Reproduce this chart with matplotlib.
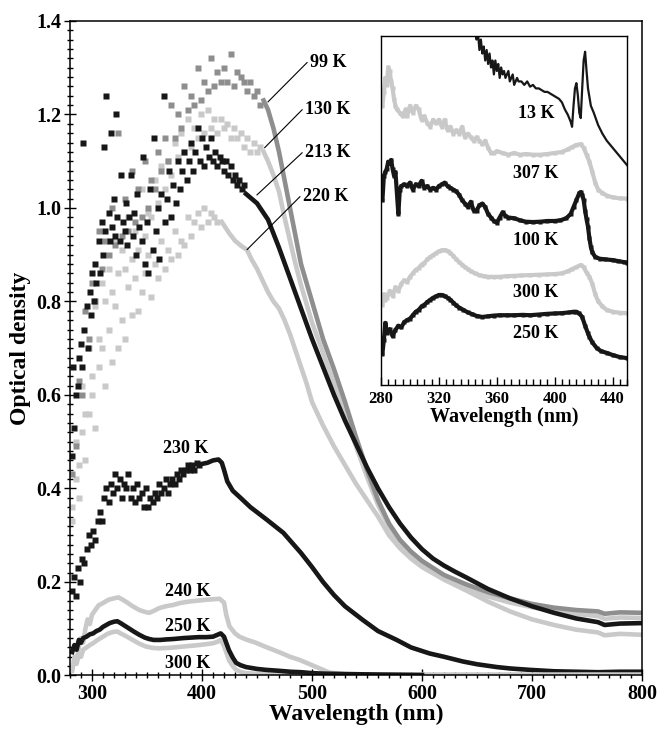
import matplotlib.pyplot as plt
from matplotlib.ticker import MultipleLocator

plt.rcParams['font.family'] = ['Liberation Serif', 'DejaVu Serif']
plt.rcParams['font.weight'] = 'bold'
plt.rcParams['axes.labelweight'] = 'bold'

BLACK = '#171717'
GRAY = '#8e8e8e'
LIGHT = '#c9c9c9'

# ---- main panel: optical density spectra (noisy part shown as points, rest as line) ----
wl_99_pts = [282, 285, 288, 291, 294, 297, 300, 303, 306, 309, 312, 315, 318, 321, 324, 327, 330, 333,
             336, 339, 342, 345, 348, 351, 354, 357, 360, 363, 366, 369, 372, 375, 378, 381, 384, 387,
             390, 393, 396, 399, 402, 405, 408, 411, 414, 417, 420, 423, 426, 429, 432, 435, 438, 441,
             444, 447, 450, 453]
od_99_pts = [0.43, 0.49, 0.63, 0.60, 0.78, 0.72, 0.84, 0.80, 0.95, 0.87, 0.93, 0.90, 1.00, 0.92, 1.16,
             0.94, 1.02, 0.95, 1.08, 0.97, 1.04, 0.98, 1.10, 1.00, 1.06, 1.04, 1.12, 1.08, 1.15, 1.10,
             1.22, 1.15, 1.20, 1.17, 1.26, 1.21, 1.24, 1.22, 1.30, 1.23, 1.27, 1.25, 1.32, 1.26, 1.29,
             1.27, 1.30, 1.27, 1.33, 1.26, 1.29, 1.28, 1.27, 1.25, 1.27, 1.24, 1.25, 1.22]
wl_99_line = [456, 460, 465, 470, 475, 480, 485, 490, 495, 500, 510, 520, 530, 540, 550, 560, 570, 580,
              590, 600, 620, 640, 660, 680, 700, 720, 740, 760, 766, 780, 800]
od_99_line = [1.23, 1.21, 1.17, 1.12, 1.06, 1.00, 0.94, 0.88, 0.84, 0.80, 0.72, 0.655, 0.585, 0.51, 0.44,
              0.375, 0.325, 0.29, 0.265, 0.245, 0.215, 0.195, 0.178, 0.165, 0.153, 0.145, 0.140, 0.137,
              0.132, 0.135, 0.134]

wl_130_pts = [282, 285, 288, 291, 294, 297, 300, 303, 306, 309, 312, 315, 318, 321, 324, 327, 330, 333,
              336, 339, 342, 345, 348, 351, 354, 357, 360, 363, 366, 369, 372, 375, 378, 381, 384, 387,
              390, 393, 396, 399, 402, 405, 408, 411, 414, 417, 420, 423, 426, 429, 432, 435, 438, 441,
              444, 447, 450, 453]
od_130_pts = [0.36, 0.50, 0.45, 0.62, 0.56, 0.70, 0.64, 0.79, 0.72, 0.84, 0.80, 0.87, 0.82, 0.93, 0.86,
              0.91, 0.87, 0.98, 0.89, 0.95, 0.91, 1.04, 0.94, 0.99, 0.98, 1.06, 1.01, 1.09, 1.04, 1.10,
              1.07, 1.14, 1.11, 1.16, 1.12, 1.19, 1.13, 1.17, 1.15, 1.20, 1.16, 1.21, 1.17, 1.19, 1.16,
              1.19, 1.17, 1.18, 1.15, 1.17, 1.15, 1.16, 1.13, 1.15, 1.12, 1.14, 1.12, 1.13]
wl_130_line = [456, 460, 465, 470, 475, 480, 485, 490, 495, 500, 510, 520, 530, 540, 550, 560, 570, 580,
               590, 600, 620, 640, 660, 680, 700, 720, 740, 760, 766, 780, 800]
od_130_line = [1.12, 1.10, 1.07, 1.035, 0.98, 0.93, 0.88, 0.835, 0.795, 0.755, 0.69, 0.625, 0.56, 0.49,
               0.425, 0.365, 0.318, 0.283, 0.258, 0.238, 0.207, 0.186, 0.169, 0.156, 0.146, 0.138, 0.132,
               0.127, 0.121, 0.124, 0.123]

wl_213_pts = [282, 283, 284, 285, 287, 288, 290, 291, 292, 293, 295, 296, 298, 299, 300, 302, 303, 304,
              306, 307, 309, 310, 311, 312, 313, 315, 316, 317, 318, 320, 321, 322, 323, 325, 326, 328,
              330, 331, 332, 334, 335, 337, 338, 340, 341, 343, 345, 346, 348, 350, 351, 353, 355, 356,
              358, 360, 361, 363, 365, 366, 368, 370, 372, 374, 376, 378, 380, 382, 384, 386, 388, 390,
              392, 394, 396, 398, 400, 402, 404, 406, 408, 410, 412, 414, 416, 418, 420, 422, 424, 426,
              428, 430, 432, 434, 436, 438]
od_213_pts = [0.47, 0.66, 0.53, 0.60, 0.62, 0.68, 0.71, 0.66, 1.14, 0.74, 0.79, 0.70, 0.82, 0.77, 0.86,
              0.80, 0.88, 0.84, 0.93, 0.86, 0.97, 0.90, 1.13, 0.95, 1.24, 0.99, 0.93, 1.16, 0.96, 1.02,
              0.94, 1.20, 0.98, 0.93, 1.07, 0.97, 0.95, 1.01, 0.92, 0.98, 1.07, 0.94, 0.99, 0.90, 1.03,
              0.96, 0.93, 1.11, 0.88, 0.97, 0.86, 1.04, 0.91, 1.15, 0.95, 1.00, 0.89, 1.03, 1.24, 0.97,
              1.02, 1.08, 0.98, 1.05, 1.01, 1.10, 1.04, 1.08, 1.12, 1.06, 1.10, 1.14, 1.08, 1.12, 1.17,
              1.10, 1.15, 1.09, 1.13, 1.11, 1.15, 1.10, 1.12, 1.09, 1.11, 1.10, 1.08, 1.10, 1.07, 1.09,
              1.06, 1.07, 1.05, 1.06, 1.04, 1.05]
wl_213_line = [440, 450, 460, 470, 480, 490, 500, 510, 520, 530, 540, 550, 560, 570, 580, 590, 600, 610,
               620, 630, 640, 660, 680, 700, 720, 740, 760, 766, 780, 800]
od_213_line = [1.03, 1.01, 0.975, 0.915, 0.85, 0.785, 0.72, 0.66, 0.60, 0.545, 0.495, 0.445, 0.40, 0.36,
               0.325, 0.295, 0.27, 0.25, 0.235, 0.222, 0.21, 0.185, 0.165, 0.148, 0.134, 0.122, 0.114,
               0.108, 0.111, 0.112]

wl_220_pts = [282, 285, 288, 291, 294, 297, 300, 303, 306, 309, 312, 315, 318, 321, 324, 327, 330, 333,
              336, 339, 342, 345, 348, 351, 354, 357, 360, 363, 366, 369, 372, 375, 378, 381, 384, 387,
              390, 393, 396, 399, 402, 405, 408, 411, 414]
od_220_pts = [0.33, 0.42, 0.38, 0.52, 0.46, 0.56, 0.60, 0.53, 0.66, 0.70, 0.62, 0.74, 0.67, 0.79, 0.70,
              0.76, 0.72, 0.83, 0.77, 0.85, 0.78, 0.82, 0.86, 0.90, 0.81, 0.88, 0.85, 0.93, 0.87, 0.91,
              0.89, 0.95, 0.90, 0.93, 0.92, 0.98, 0.94, 0.97, 0.99, 0.96, 1.00, 0.97, 0.99, 0.98, 0.97]
wl_220_line = [418, 425, 430, 435, 441, 445, 450, 455, 460, 465, 470, 475, 480, 485, 490, 495, 500, 510,
               520, 530, 540, 550, 560, 570, 580, 590, 600, 620, 640, 660, 680, 700, 720, 740, 760, 766,
               780, 800]
od_220_line = [0.97, 0.945, 0.93, 0.92, 0.91, 0.89, 0.87, 0.845, 0.82, 0.80, 0.785, 0.76, 0.73, 0.695,
               0.66, 0.625, 0.585, 0.535, 0.49, 0.45, 0.41, 0.375, 0.34, 0.30, 0.272, 0.25, 0.232, 0.205,
               0.182, 0.158, 0.137, 0.12, 0.108, 0.098, 0.092, 0.086, 0.089, 0.087]

wl_230_pts = [282, 284, 285, 287, 289, 291, 293, 295, 297, 299, 301, 303, 305, 307, 309, 311, 313, 315,
              317, 319, 321, 323, 325, 327, 329, 331, 333, 335, 337, 339, 341, 343, 345, 347, 349, 351,
              353, 355, 357, 359, 361, 363, 365, 367, 369, 371, 373, 375, 377, 379, 381, 383, 385, 387,
              389, 391, 393, 395, 397]
od_230_pts = [0.18, 0.21, 0.17, 0.23, 0.20, 0.25, 0.24, 0.27, 0.30, 0.28, 0.31, 0.29, 0.33, 0.35, 0.33,
              0.38, 0.40, 0.37, 0.41, 0.39, 0.43, 0.40, 0.42, 0.38, 0.41, 0.40, 0.43, 0.38, 0.40, 0.37,
              0.41, 0.38, 0.39, 0.36, 0.40, 0.36, 0.38, 0.37, 0.39, 0.38, 0.41, 0.39, 0.40, 0.42, 0.39,
              0.41, 0.42, 0.41, 0.43, 0.42, 0.44, 0.43, 0.44, 0.45, 0.44, 0.45, 0.44, 0.455, 0.45]
wl_230_line = [399, 405, 410, 415, 418, 420, 423, 428, 435, 444, 459, 474, 490, 500, 510, 520, 530, 546,
               560, 577, 590, 607, 620, 637, 650, 668, 680, 698, 720, 740, 760, 780, 800]
od_230_line = [0.452, 0.455, 0.46, 0.462, 0.455, 0.44, 0.415, 0.395, 0.38, 0.36, 0.333, 0.305, 0.262,
               0.232, 0.20, 0.172, 0.148, 0.119, 0.095, 0.076, 0.06, 0.047, 0.04, 0.03, 0.024, 0.018,
               0.015, 0.012, 0.009, 0.008, 0.007, 0.008, 0.008]

wl_240 = [282, 284, 286, 288, 290, 292, 294, 296, 298, 300, 303, 306, 310, 315, 320, 324, 328, 332, 337,
          343, 348, 352, 356, 361, 367, 374, 380, 388, 396, 404, 410, 416, 420, 422, 425, 430, 434, 440,
          449, 458, 470, 480, 489, 500, 510, 516, 530, 560, 600, 700, 800]
od_240 = [0.01, 0.04, 0.03, 0.06, 0.08, 0.07, 0.10, 0.12, 0.11, 0.13, 0.14, 0.15, 0.155, 0.162, 0.165,
          0.167, 0.162, 0.156, 0.148, 0.14, 0.136, 0.134, 0.138, 0.144, 0.148, 0.151, 0.155, 0.158, 0.16,
          0.162, 0.163, 0.164, 0.156, 0.13, 0.105, 0.09, 0.083, 0.077, 0.07, 0.061, 0.05, 0.04, 0.033,
          0.022, 0.012, 0.006, 0.003, 0.002, 0.002, 0.002, 0.002]

wl_250 = [282, 284, 286, 288, 290, 292, 295, 298, 301, 304, 307, 310, 313, 316, 320, 323, 326, 330, 334,
          338, 343, 348, 352, 356, 362, 367, 374, 383, 390, 397, 404, 410, 414, 417, 420, 422, 424.5, 428,
          431, 435, 440, 450, 458, 470, 480, 490, 500, 510, 530, 560, 600]
od_250 = [0.05, 0.065, 0.055, 0.076, 0.07, 0.08, 0.083, 0.088, 0.09, 0.095, 0.098, 0.104, 0.108, 0.112,
          0.115, 0.116, 0.112, 0.106, 0.10, 0.094, 0.087, 0.081, 0.078, 0.076, 0.076, 0.077, 0.078, 0.08,
          0.081, 0.082, 0.082, 0.083, 0.087, 0.09, 0.083, 0.07, 0.054, 0.038, 0.027, 0.022, 0.018, 0.014,
          0.012, 0.01, 0.008, 0.007, 0.005, 0.004, 0.003, 0.002, 0.001]

wl_300 = [282, 284, 286, 288, 290, 292, 295, 298, 301, 305, 310, 314, 319, 323, 326, 331, 337, 343, 349,
          355, 361, 370, 379, 388, 397, 404, 410, 414, 417, 420, 422, 424.5, 428, 431, 436, 440, 460, 500,
          600]
od_300 = [0.015, 0.03, 0.025, 0.045, 0.04, 0.055, 0.06, 0.065, 0.069, 0.076, 0.083, 0.089, 0.093, 0.094,
          0.09, 0.084, 0.076, 0.068, 0.062, 0.059, 0.058, 0.059, 0.061, 0.063, 0.065, 0.067, 0.069, 0.072,
          0.076, 0.063, 0.05, 0.033, 0.02, 0.012, 0.007, 0.005, 0.002, 0.001, 0.0]

# ---- inset: normalised spectra, offset vertically ----
wl_i13 = [345, 346, 347, 348, 349, 350, 351, 352, 353, 354, 355, 356, 357, 358, 359, 360, 361, 362, 363,
          364, 365, 366, 368, 369, 371, 372, 374, 375, 377, 379, 381, 383, 385, 387, 389, 391, 393, 395,
          397, 399, 401, 403, 405, 407, 409, 411, 412, 413, 414, 415, 416, 417, 418, 419, 420, 421, 422,
          423, 425, 427, 430, 433, 436, 440, 444, 448, 450]
y_i13 = [1.03, 0.99, 1.01, 0.96, 0.99, 0.95, 0.97, 0.93, 0.96, 0.92, 0.95, 0.91, 0.93, 0.89, 0.93, 0.90,
         0.92, 0.88, 0.91, 0.89, 0.90, 0.88, 0.90, 0.87, 0.89, 0.86, 0.88, 0.87, 0.87, 0.86, 0.87, 0.855,
         0.86, 0.85, 0.85, 0.845, 0.84, 0.84, 0.835, 0.83, 0.825, 0.82, 0.81, 0.79, 0.775, 0.755, 0.74,
         0.80, 0.85, 0.865, 0.83, 0.78, 0.765, 0.85, 0.93, 0.955, 0.90, 0.85, 0.80, 0.78, 0.745, 0.72,
         0.70, 0.68, 0.66, 0.64, 0.63]

wl_i307 = [281, 282, 283, 284, 285, 286, 287, 288, 289, 290, 291, 293, 295, 297, 298, 300, 302, 304, 306,
           308, 310, 312, 314, 316, 318, 320, 322, 324, 326, 328, 330, 332, 334, 336, 338, 340, 342, 344,
           346, 348, 350, 352, 354, 356, 358, 360, 364, 368, 372, 376, 380, 385, 390, 395, 400, 405, 409,
           412, 415, 418, 420, 422, 424, 426, 428, 430, 433, 436, 440, 445, 450]
y_i307 = [0.80, 0.84, 0.88, 0.86, 0.91, 0.90, 0.87, 0.85, 0.82, 0.80, 0.79, 0.78, 0.77, 0.79, 0.77, 0.80,
          0.78, 0.80, 0.79, 0.76, 0.77, 0.75, 0.74, 0.76, 0.75, 0.76, 0.74, 0.76, 0.73, 0.74, 0.72, 0.73,
          0.72, 0.74, 0.71, 0.72, 0.71, 0.70, 0.71, 0.70, 0.69, 0.70, 0.68, 0.665, 0.665, 0.67, 0.665,
          0.66, 0.665, 0.66, 0.662, 0.66, 0.66, 0.662, 0.665, 0.668, 0.675, 0.682, 0.688, 0.69, 0.68,
          0.66, 0.64, 0.61, 0.58, 0.56, 0.55, 0.543, 0.538, 0.535, 0.534]

wl_i100 = [281, 282, 283, 284, 285, 286, 287, 288, 289, 290, 291, 292, 293, 294, 296, 298, 300, 302, 304,
           306, 308, 310, 312, 314, 316, 318, 320, 322, 324, 326, 328, 330, 332, 334, 336, 338, 340, 342,
           344, 346, 348, 350, 352, 354, 356, 358, 360, 362, 364, 366, 368, 372, 376, 380, 385, 390, 395,
           400, 404, 408, 411, 413, 415, 417, 418, 419, 420, 421, 422, 423, 424, 425, 426, 428, 431, 435,
           440, 444, 448, 450]
y_i100 = [0.53, 0.60, 0.61, 0.62, 0.64, 0.635, 0.645, 0.62, 0.60, 0.61, 0.55, 0.49, 0.56, 0.57, 0.575,
          0.57, 0.58, 0.56, 0.575, 0.57, 0.585, 0.565, 0.57, 0.56, 0.565, 0.56, 0.57, 0.575, 0.58, 0.57,
          0.565, 0.56, 0.555, 0.545, 0.53, 0.52, 0.51, 0.525, 0.50, 0.50, 0.515, 0.52, 0.51, 0.49, 0.48,
          0.47, 0.465, 0.48, 0.495, 0.485, 0.48, 0.478, 0.472, 0.468, 0.467, 0.468, 0.47, 0.47, 0.472,
          0.478, 0.49, 0.51, 0.53, 0.55, 0.553, 0.545, 0.53, 0.50, 0.475, 0.454, 0.42, 0.395, 0.38, 0.367,
          0.362, 0.36, 0.358, 0.355, 0.352, 0.351]

wl_i300 = [281, 282, 283, 284, 286, 288, 290, 292, 294, 296, 298, 300, 302, 304, 306, 308, 310, 312, 314,
           316, 318, 320, 322, 324, 326, 328, 330, 332, 334, 336, 338, 340, 342, 345, 348, 351, 354, 358,
           362, 367, 372, 377, 383, 389, 395, 400, 405, 409, 412, 415, 418, 420, 422, 424, 426, 428, 430,
           433, 436, 440, 445, 450]
y_i300 = [0.23, 0.26, 0.244, 0.25, 0.27, 0.255, 0.28, 0.27, 0.29, 0.30, 0.295, 0.31, 0.32, 0.33, 0.335,
          0.345, 0.35, 0.36, 0.367, 0.372, 0.378, 0.383, 0.386, 0.387, 0.384, 0.378, 0.37, 0.36, 0.352,
          0.345, 0.338, 0.332, 0.326, 0.32, 0.315, 0.312, 0.31, 0.31, 0.31, 0.312, 0.313, 0.314, 0.315,
          0.316, 0.317, 0.318, 0.32, 0.326, 0.332, 0.338, 0.344, 0.338, 0.322, 0.31, 0.29, 0.26, 0.24,
          0.225, 0.215, 0.21, 0.207, 0.206]

wl_i250 = [281, 282, 283, 284, 286, 288, 290, 292, 294, 296, 298, 300, 302, 304, 306, 308, 310, 312, 314,
           316, 318, 320, 322, 324, 326, 328, 330, 332, 334, 337, 340, 343, 346, 350, 354, 358, 362, 367,
           372, 378, 383, 389, 395, 400, 405, 410, 413, 415, 417, 419, 421, 423, 424, 426, 429, 432, 436,
           440, 445, 450]
y_i250 = [0.09, 0.13, 0.178, 0.15, 0.16, 0.14, 0.158, 0.17, 0.165, 0.18, 0.186, 0.19, 0.20, 0.21, 0.215,
          0.225, 0.23, 0.238, 0.244, 0.25, 0.254, 0.258, 0.258, 0.255, 0.25, 0.244, 0.236, 0.228, 0.222,
          0.215, 0.208, 0.203, 0.198, 0.195, 0.197, 0.199, 0.20, 0.20, 0.20, 0.201, 0.20, 0.202, 0.204,
          0.205, 0.206, 0.208, 0.21, 0.21, 0.205, 0.195, 0.17, 0.148, 0.138, 0.122, 0.106, 0.097, 0.092,
          0.086, 0.08, 0.077]

fig = plt.figure(figsize=(6.58, 7.30), dpi=100)
ax = fig.add_axes([0.1064, 0.0747, 0.8693, 0.8966])


def draw(a, wl_pts, od_pts, wl_line, od_line, color):
    if wl_pts:
        a.plot(wl_pts, od_pts, 's', ms=4.3, color=color, mec='none')
    a.plot(wl_line, od_line, '-', lw=3.3, color=color)


draw(ax, wl_220_pts, od_220_pts, wl_220_line, od_220_line, LIGHT)
draw(ax, wl_130_pts, od_130_pts, wl_130_line, od_130_line, LIGHT)
draw(ax, wl_99_pts, od_99_pts, wl_99_line, od_99_line, GRAY)
draw(ax, wl_213_pts, od_213_pts, wl_213_line, od_213_line, BLACK)
draw(ax, wl_230_pts, od_230_pts, wl_230_line, od_230_line, BLACK)
draw(ax, [], [], wl_240, od_240, LIGHT)
draw(ax, [], [], wl_300, od_300, LIGHT)
draw(ax, [], [], wl_250, od_250, BLACK)

# labels with leader lines
leaders = [('99 K', (460, 1.227), (495.5, 1.311)),
           ('130 K', (457, 1.129), (491, 1.21)),
           ('213 K', (450, 1.028), (491, 1.118)),
           ('220 K', (441, 0.911), (489, 1.024))]
for txt, p0, p1 in leaders:
    ax.plot([p0[0], p1[0]], [p0[1], p1[1]], '-', color='k', lw=0.8)
    ax.text(p1[0] + 3, p1[1], txt, fontsize=13, ha='left', va='center')

for txt, x, y in [('230 K', 385, 0.485), ('240 K', 387, 0.179),
                  ('250 K', 387, 0.104), ('300 K', 387, 0.025)]:
    ax.text(x, y, txt, fontsize=13, ha='center', va='center')

ax.set_xlim(280, 800)
ax.set_ylim(0, 1.4)
ax.xaxis.set_major_locator(MultipleLocator(100))
ax.xaxis.set_minor_locator(MultipleLocator(10))
ax.yaxis.set_major_locator(MultipleLocator(0.2))
ax.yaxis.set_minor_locator(MultipleLocator(0.02))
ax.yaxis.set_major_formatter(lambda v, p: f'{v:.1f}')
ax.tick_params(which='major', direction='inout', length=8, width=1, labelsize=14.5, pad=2)
ax.tick_params(which='minor', direction='inout', length=5, width=1)
ax.tick_params(top=False, right=False)
for s in ax.spines.values():
    s.set_linewidth(1.1)
ax.set_xlabel('Wavelength (nm)', fontsize=17, labelpad=0)
ax.set_ylabel('Optical density', fontsize=17, labelpad=4)

# ---- inset ----
ins = fig.add_axes([0.579, 0.4726, 0.374, 0.478])
ins.plot(wl_i307, y_i307, 's-', ms=2.5, lw=3.0, color=LIGHT, mec='none')
ins.plot(wl_i300, y_i300, 's-', ms=2.5, lw=3.0, color=LIGHT, mec='none')
ins.plot(wl_i100, y_i100, 's-', ms=2.5, lw=3.0, color=BLACK, mec='none')
ins.plot(wl_i250, y_i250, 's-', ms=2.5, lw=3.0, color=BLACK, mec='none')
ins.plot(wl_i13, y_i13, '-', lw=1.6, color=BLACK)

for txt, y in [('13 K', 0.778), ('307 K', 0.605), ('100 K', 0.415),
               ('300 K', 0.264), ('250 K', 0.149)]:
    ins.text(387, y, txt, fontsize=13, ha='center', va='center')

ins.set_xlim(280, 450)
ins.set_ylim(0, 1)
ins.xaxis.set_major_locator(MultipleLocator(40))
ins.xaxis.set_minor_locator(MultipleLocator(5))
ins.set_yticks([])
ins.tick_params(axis='x', which='major', direction='in', length=6, width=1, labelsize=12, pad=4)
ins.tick_params(axis='x', which='minor', direction='in', length=4, width=1)
for s in ins.spines.values():
    s.set_linewidth(1.0)
ins.set_xlabel('Wavelength (nm)', fontsize=14.5, labelpad=0)

fig.savefig('out.png', dpi=100)
